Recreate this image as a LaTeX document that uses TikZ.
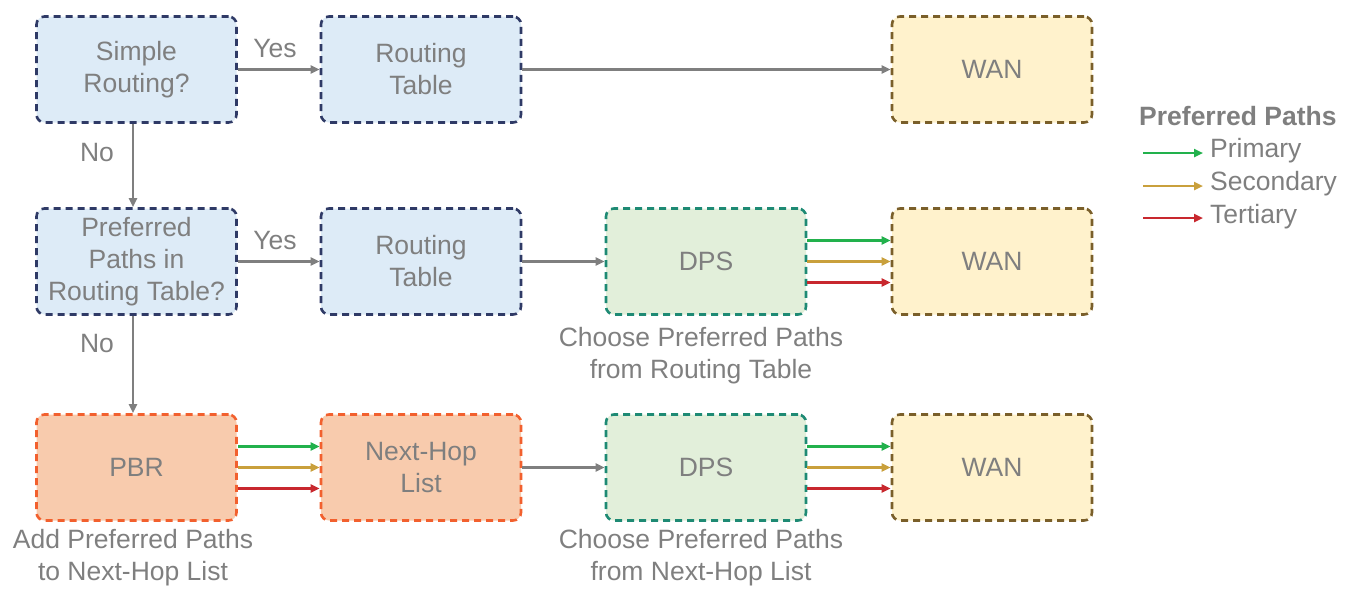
\documentclass[tikz,border=0pt]{standalone}
\usepackage{fontspec}
\setmainfont{Liberation Sans}
\usetikzlibrary{arrows.meta}
\definecolor{txt}{HTML}{7F7F7F}
\definecolor{bluefill}{HTML}{DDEBF7}
\definecolor{blueline}{HTML}{2F3A66}
\definecolor{greenfill}{HTML}{E2EFDA}
\definecolor{greenline}{HTML}{1E8A74}
\definecolor{wanfill}{HTML}{FFF2CC}
\definecolor{wanline}{HTML}{7A5F2A}
\definecolor{pbrfill}{HTML}{F8CBAD}
\definecolor{pbrline}{HTML}{F2602E}
\definecolor{cprim}{HTML}{22B14C}
\definecolor{csec}{HTML}{C9A03C}
\definecolor{cter}{HTML}{C8282E}
\tikzset{
  box/.style={rounded corners=8pt, line width=2.6pt, dash pattern=on 7pt off 5pt,
    minimum width=200pt, minimum height=106pt, inner sep=0pt, align=center,
    font=\fontsize{26.5}{32}\selectfont, text=txt},
  bluebox/.style={box, draw=blueline, fill=bluefill},
  greenbox/.style={box, draw=greenline, fill=greenfill},
  wanbox/.style={box, draw=wanline, fill=wanfill},
  pbrbox/.style={box, draw=pbrline, fill=pbrfill},
  lbl/.style={font=\fontsize{26.5}{32}\selectfont, text=txt, align=center, inner sep=0pt},
  conn/.style={draw=txt, line width=2.4pt, -{Triangle[length=9pt,width=8pt]}},
  prim/.style={conn, draw=cprim, fill=cprim},
  sec/.style={conn, draw=csec, fill=csec},
  ter/.style={conn, draw=cter, fill=cter},
}
\begin{document}
\begin{tikzpicture}[x=1pt,y=-1pt]
\useasboundingbox (0,0) rectangle (1352,590);
% row 1
\node[bluebox] (simple) at (136.5,69.5) {Simple\\Routing?};
\node[bluebox] (rt1) at (421,69.5) {Routing\\Table};
\node[wanbox] (wan1) at (992,69.5) {WAN};
% row 2
\node[bluebox] (pref) at (136.5,261.5) {Preferred\\Paths in\\Routing Table?};
\node[bluebox] (rt2) at (421,261.5) {Routing\\Table};
\node[greenbox] (dps2) at (706,261.5) {DPS};
\node[wanbox] (wan2) at (992,261.5) {WAN};
% row 3
\node[pbrbox] (pbr) at (136.5,467.5) {PBR};
\node[pbrbox] (nhl) at (421,467.5) {Next-Hop\\List};
\node[greenbox] (dps3) at (706,467.5) {DPS};
\node[wanbox] (wan3) at (992,467.5) {WAN};
% captions
\node[lbl] (cap2) at (701,356) {Choose Preferred Paths\\from Routing Table};
\node[lbl] (cap3) at (701,558) {Choose Preferred Paths\\from Next-Hop List};
\node[lbl] (cap1) at (133,558) {Add Preferred Paths\\to Next-Hop List};
% labels
\node[lbl] (yes1) at (275,49) {Yes};
\node[lbl] (yes2) at (275,241) {Yes};
\node[lbl] (no1) at (97,153) {No};
\node[lbl] (no2) at (97,344) {No};
% gray connectors
\draw[conn] (simple.east) -- (rt1.west);
\draw[conn] (rt1.east) -- (wan1.west);
\draw[conn] (simple.south -| 133,0) -- (pref.north -| 133,0);
\draw[conn] (pref.east) -- (rt2.west);
\draw[conn] (rt2.east) -- (dps2.west);
\draw[conn] (pref.south -| 133,0) -- (pbr.north -| 133,0);
\draw[conn] (nhl.east) -- (dps3.west);
% coloured connectors
\draw[prim] ([yshift=21pt]dps2.east) -- ([yshift=21pt]wan2.west);
\draw[sec] (dps2.east) -- (wan2.west);
\draw[ter] ([yshift=-21pt]dps2.east) -- ([yshift=-21pt]wan2.west);
\draw[prim] ([yshift=21pt]pbr.east) -- ([yshift=21pt]nhl.west);
\draw[sec] (pbr.east) -- (nhl.west);
\draw[ter] ([yshift=-21pt]pbr.east) -- ([yshift=-21pt]nhl.west);
\draw[prim] ([yshift=21pt]dps3.east) -- ([yshift=21pt]wan3.west);
\draw[sec] (dps3.east) -- (wan3.west);
\draw[ter] ([yshift=-21pt]dps3.east) -- ([yshift=-21pt]wan3.west);
% legend
\node[lbl, font=\fontsize{26.5}{32}\selectfont\bfseries, anchor=west] (legt) at (1139,116) {Preferred Paths};
\coordinate (l1a) at (1143,153); \coordinate (l1b) at (1203,153);
\coordinate (l2a) at (1143,186); \coordinate (l2b) at (1203,186);
\coordinate (l3a) at (1143,218); \coordinate (l3b) at (1203,218);
\draw[prim] (l1a) -- (l1b);
\draw[sec] (l2a) -- (l2b);
\draw[ter] (l3a) -- (l3b);
\node[lbl, anchor=west] (lp) at (1210,151) {Primary};
\node[lbl, anchor=west] (ls) at (1210,184) {Secondary};
\node[lbl, anchor=west] (lt) at (1210,217) {Tertiary};
\end{tikzpicture}
\end{document}
